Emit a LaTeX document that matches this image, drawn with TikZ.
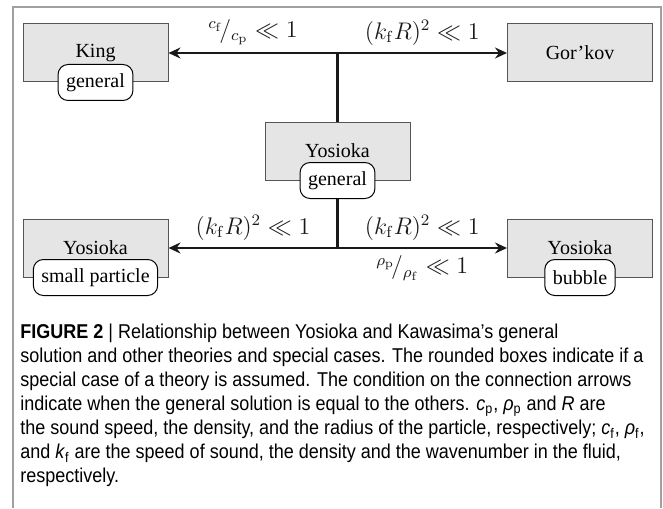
\documentclass[tikz,border=0pt]{standalone}
\usepackage[no-math]{fontspec}
\setmainfont{Liberation Serif}
\newfontfamily\capfont[FakeStretch=0.9]{Liberation Sans}
\usepackage{tikz}
\usetikzlibrary{arrows.meta, positioning, calc}
\definecolor{boxfill}{RGB}{229, 229, 229}
\definecolor{boxline}{RGB}{85, 85, 85}
\definecolor{framegray}{RGB}{160, 160, 160}

\begin{document}
\begin{tikzpicture}[
    x=0.5pt, y=-0.5pt,
    thy/.style={draw=boxline, fill=boxfill, line width=0.5pt,
                minimum width=72.5pt, minimum height=29pt,
                inner sep=0pt},
    spc/.style={draw=black, fill=white, line width=0.5pt,
                rounded corners=5pt, minimum height=18pt,
                inner xsep=4pt, inner ysep=0pt},
    arr/.style={-{Stealth[length=6pt, width=5.5pt, inset=2pt]},
                line width=1.1pt, color=black!90},
    cond/.style={font=\large},
]
\useasboundingbox (0,0) rectangle (663,508);

% -- Frame ----------------------------------
\draw[framegray, line width=0.75pt] (13,508) |- (661,7) -- (661,508);

% -- Theories -------------------------------
\node[thy] (king)   at (95.5, 53)  {King};
\node[thy] (gorkov) at (580, 53)   {Gor'kov};
\node[thy] (yos)    at (337.5, 151){Yosioka};
\node[thy] (yossp)  at (95.5, 248) {Yosioka};
\node[thy] (yosbub) at (580, 248)  {Yosioka};

% -- Special cases (rounded) ----------------
\node[spc] (kinggen) at (king.south)   {general};
\node[spc] (yosgen)  at (yos.south)    {general};
\node[spc] (small)   at (yossp.south)  {small particle};
\node[spc] (bub)     at (yosbub.south) {bubble};

% -- Junctions ------------------------------
\coordinate (jtop) at (yos.north |- king.east);
\coordinate (jbot) at (yos.north |- yossp.east);

% -- Connections ----------------------------
\draw[line width=1.1pt, color=black!90] (yos.north) -- (jtop);
\draw[arr] (jtop) -- node[cond, above]
    {${}^{c_\mathrm{f}}\!/{}_{c_\mathrm{p}} \ll 1$} (king.east);
\draw[arr] (jtop) -- node[cond, above]
    {$(k_\mathrm{f}R)^2 \ll 1$} (gorkov.west);

\draw[line width=1.1pt, color=black!90] (yosgen.south) -- (jbot);
\draw[arr] (jbot) -- node[cond, above]
    {$(k_\mathrm{f}R)^2 \ll 1$} (yossp.east);
\draw[arr] (jbot) -- node[cond, above]
    {$(k_\mathrm{f}R)^2 \ll 1$}
    node[cond, below]
    {${}^{\rho_\mathrm{p}}\!/{}_{\rho_\mathrm{f}} \ll 1$} (yosbub.west);

% -- Caption --------------------------------
\node[anchor=north west, inner sep=0pt, align=left,
      font=\capfont\fontsize{10}{12}\selectfont] (caption) at (20,324)
    {\textbf{FIGURE 2} | Relationship between Yosioka and Kawasima’s general\\
     solution and other theories and special cases. The rounded boxes indicate if a\\
     special case of a theory is assumed. The condition on the connection arrows\\
     indicate when the general solution is equal to the others. \textit{c}\textsubscript{p}, \textit{ρ}\textsubscript{p} and \textit{R} are\\
     the sound speed, the density, and the radius of the particle, respectively; \textit{c}\textsubscript{f}, \textit{ρ}\textsubscript{f},\\
     and \textit{k}\textsubscript{f} are the speed of sound, the density and the wavenumber in the fluid,\\
     respectively.};
\end{tikzpicture}
\end{document}
